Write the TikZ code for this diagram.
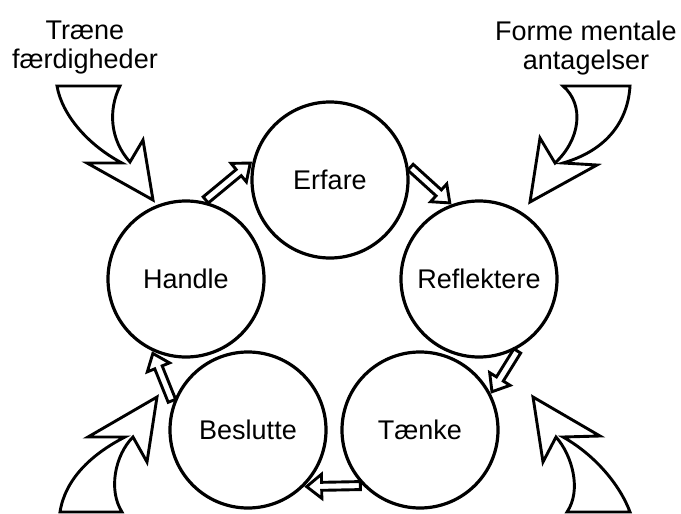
\documentclass[tikz,border=0pt]{standalone}
\usepackage{fontspec}
\setmainfont{Liberation Sans}
\usetikzlibrary{calc}

\tikzset{
  stage/.style={draw, circle, line width=3.2pt, minimum size=156pt, inner sep=0pt, outer sep=3.5pt},
  flow/.style={draw, fill=white, line width=2.9pt, line join=miter},
}

% hollow block arrow from #1 to #2
\newcommand{\flowarrow}[2]{%
  \coordinate (hb) at ($(#2)!15pt!(#1)$);
  \draw[flow] ($(#1)!4pt!90:(#2)$) -- ($(hb)!4pt!-90:(#1)$) -- ($(hb)!12pt!-90:(#1)$)
    -- (#2) -- ($(hb)!12pt!90:(#1)$) -- ($(hb)!4pt!90:(#1)$) -- ($(#1)!4pt!-90:(#2)$) -- cycle;
}

\begin{document}
\begin{tikzpicture}[x=1pt,y=-1pt,font=\fontsize{27}{29}\selectfont]
\useasboundingbox (0,0) rectangle (681,514);

\node[stage] (erfare) at (330,180) {Erfare};
\node[stage] (handle) at (186,279) {Handle};
\node[stage] (reflektere) at (479,279) {Reflektere};
\node[stage] (beslutte) at (248,430) {Beslutte};
\node[stage] (taenke) at (420,430) {Tænke};

\flowarrow{handle.76}{erfare.168}
\flowarrow{erfare.9}{reflektere.111}
\flowarrow{reflektere.298}{taenke.28}
\flowarrow{taenke.223}{beslutte.316}
\flowarrow{beslutte.159}{handle.246}

\node[align=center] (skills) at (85,48) {Træne\\færdigheder};
\node[align=center] (models) at (586,48) {Forme mentale\\antagelser};

% big curved arrows
\draw[flow] (57,86) -- (120,86) .. controls (108,110) and (110,140) .. (130,162) -- (143,140)
  -- (153,200) -- (87,163) -- (122,163) .. controls (88,145) and (62,115) .. (57,86) -- cycle;
\draw[flow] (563,86) -- (630,86) .. controls (628,120) and (608,150) .. (563,163) -- (597,165)
  -- (530,202) -- (540,138) -- (555,163) .. controls (580,140) and (585,105) .. (563,86) -- cycle;
\draw[flow] (60,512) .. controls (65,480) and (90,455) .. (125,437) -- (88,437) -- (157,397)
  -- (147,462) -- (133,437) .. controls (115,455) and (108,490) .. (122,512) -- cycle;
\draw[flow] (533,397) -- (543,462) -- (556,437) .. controls (572,455) and (582,490) .. (567,512)
  -- (630,512) .. controls (620,485) and (595,455) .. (563,437) -- (600,436) -- cycle;
\end{tikzpicture}
\end{document}
